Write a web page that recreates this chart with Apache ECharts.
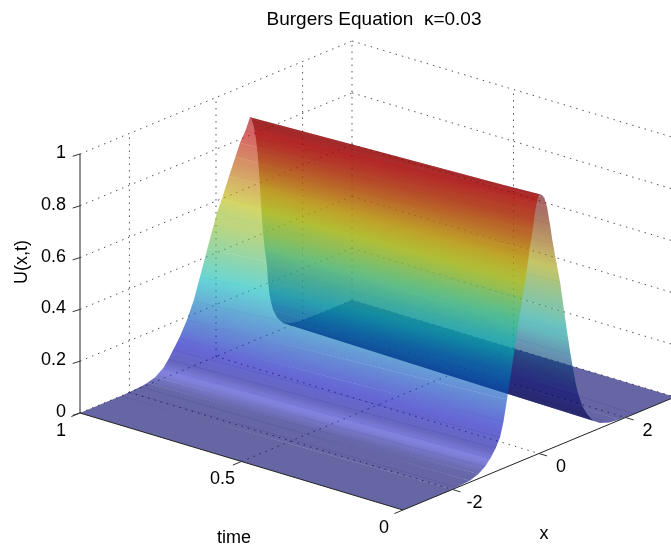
<!DOCTYPE html>
<html><head><meta charset="utf-8">
<style>html,body{margin:0;padding:0;background:#fff}#c{width:671px;height:552px}</style>
<script src="https://cdn.jsdelivr.net/npm/echarts@6/dist/echarts.min.js"></script>
</head><body><div id="c"></div>
<script>
// ---- data ----
const titleText = 'Burgers Equation  \u03BA=0.03';
const uTicks = [0, 0.2, 0.4, 0.6, 0.8, 1];
const uTickLabels = ['0', '0.2', '0.4', '0.6', '0.8', '1'];
const xTicks = [-2, 0, 2];
const xTickLabels = ['-2', '0', '2'];
const timeTicks = [0, 0.5, 1];
const timeTickLabels = ['0', '0.5', '1'];
const PI = 3.1416;
// surface rows: each column follows the pulse from t=0 to t=1
const rowTimes = [1, 0.5, 0];
const xAtT0 = [-PI,-2.0,-1.9,-1.6,-1.4,-1.25,-1.12,-1.0,-0.9,-0.82,-0.74,-0.65,-0.55,-0.45,-0.38,-0.3,-0.22,-0.14,-0.08,-0.04,0,
  0.06,0.12,0.185,0.25,0.32,0.4,0.485,0.58,0.67,0.73,0.79,0.85,0.9,1.0,1.11,1.25,1.41,1.6,1.85,2.2,PI];
const uAtT0 = [0,0,0.002,0.006,0.018,0.035,0.06,0.09,0.125,0.18,0.26,0.35,0.46,0.56,0.63,0.71,0.8,0.88,0.95,0.98,1.0,
  0.995,0.98,0.94,0.87,0.79,0.71,0.63,0.51,0.4,0.33,0.27,0.21,0.17,0.115,0.075,0.04,0.02,0.008,0.002,0,0];
const xAtT05 = [-PI,-2.1,-1.95,-1.68,-1.5,-1.33,-1.17,-1.05,-0.95,-0.84,-0.71,-0.59,-0.46,-0.33,-0.18,-0.08,0.04,0.15,0.24,0.32,0.39,
  0.44,0.495,0.55,0.6,0.655,0.71,0.77,0.83,0.9,0.955,1.0,1.045,1.09,1.16,1.265,1.4,1.555,1.75,2.0,2.3,PI];
const uAtT05 = [0,0,0.002,0.005,0.012,0.026,0.048,0.078,0.11,0.155,0.225,0.305,0.4,0.495,0.59,0.655,0.73,0.79,0.85,0.905,0.935,
  0.925,0.9,0.865,0.795,0.72,0.645,0.56,0.455,0.365,0.3,0.24,0.18,0.14,0.1,0.062,0.031,0.015,0.006,0.0015,0,0];
const xAtT1 = [-PI,-2.2,-2.0,-1.75,-1.59,-1.4,-1.22,-1.1,-0.99,-0.85,-0.67,-0.52,-0.37,-0.2,0.02,0.15,0.3,0.45,0.554,0.68,0.785,
  0.82,0.87,0.92,0.96,0.99,1.016,1.05,1.086,1.13,1.18,1.2,1.24,1.28,1.32,1.42,1.55,1.7,1.9,2.15,2.4,PI];
const uAtT1 = [0,0,0.001,0.004,0.008,0.018,0.04,0.065,0.094,0.13,0.188,0.25,0.333,0.43,0.5525,0.605,0.675,0.74,0.786,0.825,0.869,
  0.86,0.83,0.78,0.72,0.655,0.584,0.49,0.4,0.33,0.264,0.21,0.15,0.115,0.088,0.05,0.022,0.01,0.004,0.001,0,0];
const rowX = [xAtT1, xAtT05, xAtT0];
const rowU = [uAtT1, uAtT05, uAtT0];
const CREST_COLUMN = 20;

// ---- view: oblique projection of the MATLAB box ----
const ORIGIN = [403, 510], PER_X = [272 / (2 * PI), -113 / (2 * PI)], PER_T = [-323, -97], PER_U = 259;
function project(x, t, u) {
  const k = x + PI;
  return [ORIGIN[0] + k * PER_X[0] + t * PER_T[0], ORIGIN[1] + k * PER_X[1] + t * PER_T[1] - u * PER_U];
}
// jet colormap, dimmed by lighting; the far flank of the pulse is in shadow
const JET = [[0,0,0,143],[0.125,0,0,255],[0.375,0,255,255],[0.625,255,255,0],[0.875,255,0,0],[1,128,0,0]];
const DIM = 0.73, ALPHA = 0.6;
function farFactor(u) {
  const lift = Math.min(1, Math.max(0, (u - 0.008) / 0.03));
  const low = 0.55 + 0.3 * Math.min(1, Math.max(0, (u - 0.2) / 0.2));
  const high = Math.max(0.62, 1 - 1.4 * Math.max(0, u - 0.55));
  return 1 + lift * (Math.min(low, high) - 1);
}
function shade(u, farSide) {
  let a = JET[0], b = JET[1];
  for (let i = 0; i < JET.length - 1; i++) if (u >= JET[i][0]) { a = JET[i]; b = JET[i + 1]; }
  const f = Math.min(1, (u - a[0]) / (b[0] - a[0]));
  const g = farSide ? farFactor(u) : 1;
  const c = [1, 2, 3].map(k => (a[k] + (b[k] - a[k]) * f) * DIM * g);
  // soft highlight where the surface lifts off the floor
  const h = Math.max(0, 1 - Math.abs(u - 0.04) / 0.03);
  if (!farSide) { c[0] += 50 * h; c[1] += 50 * h; c[2] += 75 * h; }
  return 'rgba(' + c.map(v => Math.round(Math.min(255, v))).join(',') + ',' + ALPHA + ')';
}

// ---- mark lists ----
const columns = [];
for (let j = xAtT0.length - 2; j >= 0; j--) columns.push([j]);

const gridLines = [];
uTicks.forEach(u => { gridLines.push([[-PI,1,u],[PI,1,u]]); gridLines.push([[PI,1,u],[PI,0,u]]); });
xTicks.concat([PI]).forEach(x => gridLines.push([[x,1,0],[x,1,1]]));
xTicks.forEach(x => gridLines.push([[x,1,0],[x,0,0]]));
timeTicks.slice(1, 2).forEach(t => { gridLines.push([[PI,t,0],[PI,t,1]]); gridLines.push([[-PI,t,0],[PI,t,0]]); });

const axisLines = [
  [[-PI,1,0],[-PI,1,1]], [[-PI,1,0],[-PI,0,0]], [[-PI,0,0],[PI,0,0]]
];
const tickLines = [];
uTicks.forEach(u => tickLines.push([[-PI,1,u],[-PI-0.17,1.0,u+0.003]]));
timeTicks.forEach(t => tickLines.push([[-PI,t,0],[-PI-0.2,t,0]]));
xTicks.forEach(x => tickLines.push([[x,0,0],[x,-0.025,0]]));

const texts = [];
uTicks.forEach((u, i) => { const p = project(-PI, 1, u); texts.push({t: uTickLabels[i], x: p[0] - 14, y: p[1] - 1, a: 'right'}); });
timeTicks.forEach((t, i) => { const p = project(-PI, t, 0); texts.push({t: timeTickLabels[i], x: p[0] - 19, y: p[1] + 18, a: 'center'}); });
xTicks.forEach((x, i) => { const p = project(x, 0, 0); texts.push({t: xTickLabels[i], x: p[0] + 22, y: p[1] + 14, a: 'center'}); });
texts.push({t: 'x', x: 544, y: 534, a: 'center'});
texts.push({t: 'time', x: 234, y: 538, a: 'center'});
texts.push({t: 'U(x,t)', x: 22, y: 262, a: 'center', r: Math.PI / 2});

const FONT = '18px "Liberation Sans", Arial, sans-serif';
const chart = echarts.init(document.getElementById('c'), null, {renderer: 'canvas'});

function lineSeries(list, z, style) {
  return {
    type: 'custom', coordinateSystem: 'cartesian2d', silent: true, z, clip: false, animation: false,
    data: list.map((_, i) => [i]),
    renderItem(params, api) {
      const l = list[api.value(0)];
      const a = api.coord(project.apply(null, l[0])), b = api.coord(project.apply(null, l[1]));
      return {type: 'line', shape: {x1: a[0], y1: a[1], x2: b[0], y2: b[1]}, style};
    }
  };
}

chart.setOption({
  animation: false,
  backgroundColor: '#fff',
  title: {text: titleText, left: 369, top: 5, textAlign: 'center',
    textStyle: {fontFamily: '"Liberation Sans", Arial, sans-serif', fontSize: 19, fontWeight: 'normal', color: '#000'}},
  grid: {left: 0, right: 0, top: 0, bottom: 0},
  xAxis: {type: 'value', min: 0, max: 671, show: false},
  yAxis: {type: 'value', min: 0, max: 552, inverse: true, show: false},
  series: [
    lineSeries(gridLines, 1, {stroke: '#555', lineWidth: 1, lineDash: [1.5, 5], fill: null}),
    {
      type: 'custom', coordinateSystem: 'cartesian2d', silent: true, z: 2, clip: false, animation: false,
      data: columns,
      renderItem(params, api) {
        const j = api.value(0), last = rowTimes.length - 1;
        const left = rowTimes.map((t, i) => api.coord(project(rowX[i][j], t, rowU[i][j])));
        const right = rowTimes.map((t, i) => api.coord(project(rowX[i][j + 1], t, rowU[i][j + 1])));
        const dir = [left[last][0] - left[0][0], left[last][1] - left[0][1]], len = Math.hypot(dir[0], dir[1]) || 1;
        const n = [-dir[1] / len, dir[0] / len];
        const mL = left[1], mR = right[1];
        const w = (mR[0] - mL[0]) * n[0] + (mR[1] - mL[1]) * n[1];
        const s = w >= 0 ? 1 : -1, e = 0.09 * s;
        const u1 = rowU.reduce((v, r) => v + r[j], 0) / rowU.length, u2 = rowU.reduce((v, r) => v + r[j + 1], 0) / rowU.length;
        const ww = Math.abs(w) < 0.01 ? 0.01 * s : w;
        const far = j >= CREST_COLUMN;
        const nearScale = far ? 1 : 0.97;
        const stops = [0, 0.25, 0.5, 0.75, 1].map(f => ({offset: f, color: shade((u1 + (u2 - u1) * f) * nearScale, far)}));
        const fill = new echarts.graphic.LinearGradient(mL[0], mL[1], mL[0] + n[0] * ww, mL[1] + n[1] * ww, stops, true);
        const pts = left.map(p => [p[0] - n[0] * e, p[1] - n[1] * e])
          .concat(right.slice().reverse().map(p => [p[0] + n[0] * e, p[1] + n[1] * e]));
        return {type: 'polygon', shape: {points: pts}, style: {fill}};
      }
    },
    lineSeries(axisLines, 3, {stroke: '#222', lineWidth: 1, fill: null}),
    lineSeries(tickLines, 3, {stroke: '#333', lineWidth: 1, fill: null}),
    {
      type: 'custom', coordinateSystem: 'cartesian2d', silent: true, z: 4, clip: false, animation: false,
      data: texts.map((_, i) => [i]),
      renderItem(params, api) {
        const o = texts[api.value(0)];
        const p = api.coord([o.x, o.y]);
        return {type: 'text', x: p[0], y: p[1], rotation: o.r || 0,
          style: {text: o.t, font: FONT, fill: '#000', align: o.a, verticalAlign: 'middle'}};
      }
    }
  ]
});
</script></body></html>
